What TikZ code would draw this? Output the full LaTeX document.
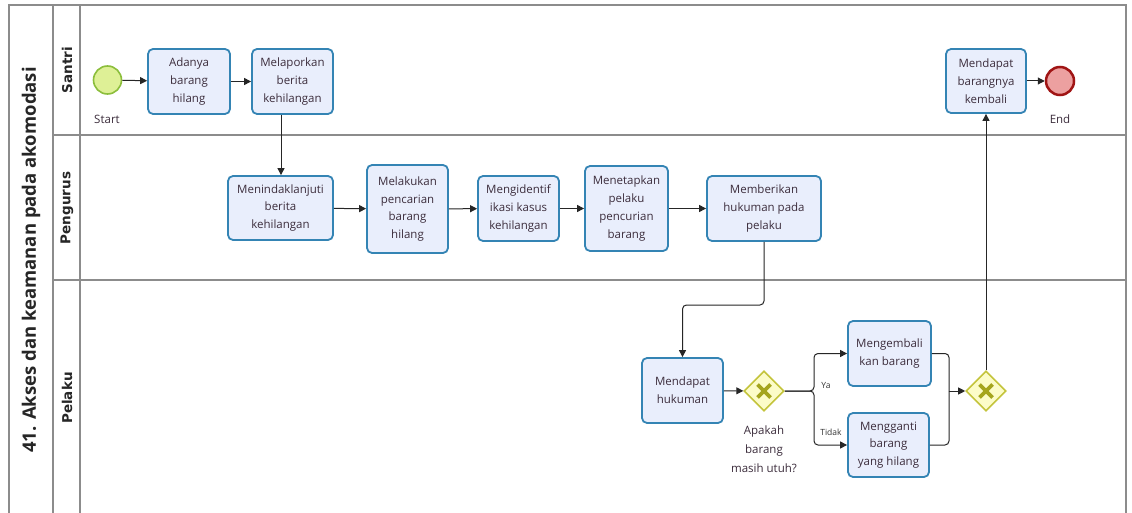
\documentclass[tikz,border=0pt]{standalone}
\usepackage{fontspec}
\setmainfont{Open Sans}
\newfontfamily\lanefont{DejaVu Sans}
\usetikzlibrary{shapes.geometric,arrows.meta,calc}
\definecolor{taskfill}{RGB}{233,238,252}
\definecolor{taskdraw}{RGB}{52,132,180}
\definecolor{txt}{RGB}{60,45,60}
\definecolor{poolline}{RGB}{140,140,140}
\definecolor{startfill}{RGB}{222,240,150}
\definecolor{startdraw}{RGB}{140,190,60}
\definecolor{endfill}{RGB}{236,160,160}
\definecolor{enddraw}{RGB}{160,20,20}
\definecolor{gwfill}{RGB}{252,252,200}
\definecolor{gwdraw}{RGB}{196,196,60}
\definecolor{gwx}{RGB}{165,165,30}
\begin{document}
\begin{tikzpicture}[x=1pt,y=-1pt,
  task/.style 2 args={draw=taskdraw, fill=taskfill, line width=1.8pt, rounded corners=5pt,
    align=center, text=txt, font=\fontsize{11.5}{17.8}\selectfont, inner sep=0pt,
    minimum width=#1, minimum height=#2},
  startev/.style={circle, draw=startdraw, fill=startfill, line width=1.6pt, minimum size=28pt, inner sep=0pt},
  endev/.style={circle, draw=enddraw, fill=endfill, line width=2.5pt, minimum size=28pt, inner sep=0pt},
  gw/.style={diamond, aspect=1, draw=gwdraw, fill=gwfill, line width=1.6pt, minimum width=40pt, minimum height=40pt, inner sep=0pt},
  gwmark/.style={draw=gwx, line width=3.8pt},
  conn/.style={draw=black!85, line width=1pt, rounded corners=4pt, -{Triangle[length=7pt,width=7pt]}},
  plain/.style={draw=black!85, line width=1pt, rounded corners=4pt},
  pool/.style={draw=poolline, line width=1.3pt},
  lbl/.style={text=txt, font=\fontsize{11.5}{19}\selectfont, align=center, inner sep=0pt},
  small/.style={text=black!80, font=\fontsize{8.5}{10}\selectfont, inner sep=0pt},
  lanelbl/.style={rotate=90, font=\lanefont\bfseries\fontsize{13.5}{15}\selectfont, text=black!85, inner sep=0pt},
  title/.style={rotate=90, font=\bfseries\fontsize{18.5}{20}\selectfont, text=black!85, inner sep=0pt}
]
\useasboundingbox (0,0) rectangle (1132,513);
\fill[white] (0,0) rectangle (1132,513);

% pool and lanes
\draw[pool] (9,513) -- (9,5) -- (1126,5) -- (1126,513);
\draw[pool] (53,5) -- (53,513);
\draw[pool] (80,5) -- (80,513);
\draw[pool] (53,135) -- (1126,135);
\draw[pool] (53,280) -- (1126,280);

\node[title] (pooltitle) at (31,260) {41. Akses dan keamanan pada akomodasi};
\node[lanelbl] (lsantri) at (67,70) {Santri};
\node[lanelbl] (lpengurus) at (67,208) {Pengurus};
\node[lanelbl] (lpelaku) at (67,398) {Pelaku};

% events
\node[startev] (start) at (107.5,80) {};
\node[lbl] (startlbl) at (107,119) {Start};
\node[endev] (end) at (1060,81) {};
\node[lbl] (endlbl) at (1060,119) {End};

% tasks
\node[task={82pt}{65pt}] (adanya) at (189,81.5) {Adanya\\barang\\hilang};
\node[task={81pt}{65pt}] (melaporkan) at (292.5,81.5) {Melaporkan\\berita\\kehilangan};
\node[task={105pt}{64pt}] (menindak) at (280.5,208) {Menindaklanjuti\\berita\\kehilangan};
\node[task={81pt}{88pt}] (melakukan) at (407.5,209) {Melakukan\\pencarian\\barang\\hilang};
\node[task={81pt}{65pt}] (mengid) at (518.5,208.5) {Mengidentif\\ikasi kasus\\kehilangan};
\node[task={83pt}{85pt}] (menetapkan) at (626.5,208.5) {Menetapkan\\pelaku\\pencurian\\barang};
\node[task={114pt}{65pt}] (memberikan) at (764,208.5) {Memberikan\\hukuman pada\\pelaku};
\node[task={81pt}{65pt}] (hukuman) at (682.5,390.5) {Mendapat\\hukuman};
\node[task={83pt}{65pt}] (mengembali) at (889.5,353.5) {Mengembali\\kan barang};
\node[task={81pt}{64pt}] (mengganti) at (888.5,445) {Mengganti\\barang\\yang hilang};
\node[task={80pt}{64pt}] (barangnya) at (986,81) {Mendapat\\barangnya\\kembali};

% gateways
\node[gw] (g1) at (764,391) {};
\draw[gwmark] ($(g1)+(-6.5,-6.5)$) -- ($(g1)+(6.5,6.5)$);
\draw[gwmark] ($(g1)+(-6.5,6.5)$) -- ($(g1)+(6.5,-6.5)$);
\node[gw] (g2) at (986,391) {};
\draw[gwmark] ($(g2)+(-6.5,-6.5)$) -- ($(g2)+(6.5,6.5)$);
\draw[gwmark] ($(g2)+(-6.5,6.5)$) -- ($(g2)+(6.5,-6.5)$);
\node[lbl] (g1lbl) at (764,449) {Apakah\\barang\\masih utuh?};

\coordinate (bend) at (0,305);
\coordinate (split) at (814,391);
\coordinate (merge) at (949,391);

% connectors
\draw[conn] (start) -- (adanya);
\draw[conn] (adanya) -- (melaporkan);
\draw[conn] (melaporkan.south -| 281,0) -- (menindak.north -| 281,0);
\draw[conn] (menindak) -- (melakukan);
\draw[conn] (melakukan) -- (mengid);
\draw[conn] (mengid) -- (menetapkan);
\draw[conn] (menetapkan) -- (memberikan);
\draw[conn] (memberikan.south) -- (memberikan.south |- bend) -| (hukuman.north);
\draw[conn] (hukuman) -- (g1);
\draw[conn] (g1.east) -- (split) |- (mengembali.west);
\draw[conn] (g1.east) -- (split) |- (mengganti.west);
\draw[plain] (mengembali.east) -| (merge);
\draw[plain] (mengganti.east) -| (merge);
\draw[conn] (merge) -- (g2.west);
\draw[conn] (g2.north) -- (barangnya.south);
\draw[conn] (barangnya) -- (end);

\node[small] (ya) at (826,386) {Ya};
\node[small] (tidak) at (831,432) {Tidak};
\end{tikzpicture}
\end{document}
